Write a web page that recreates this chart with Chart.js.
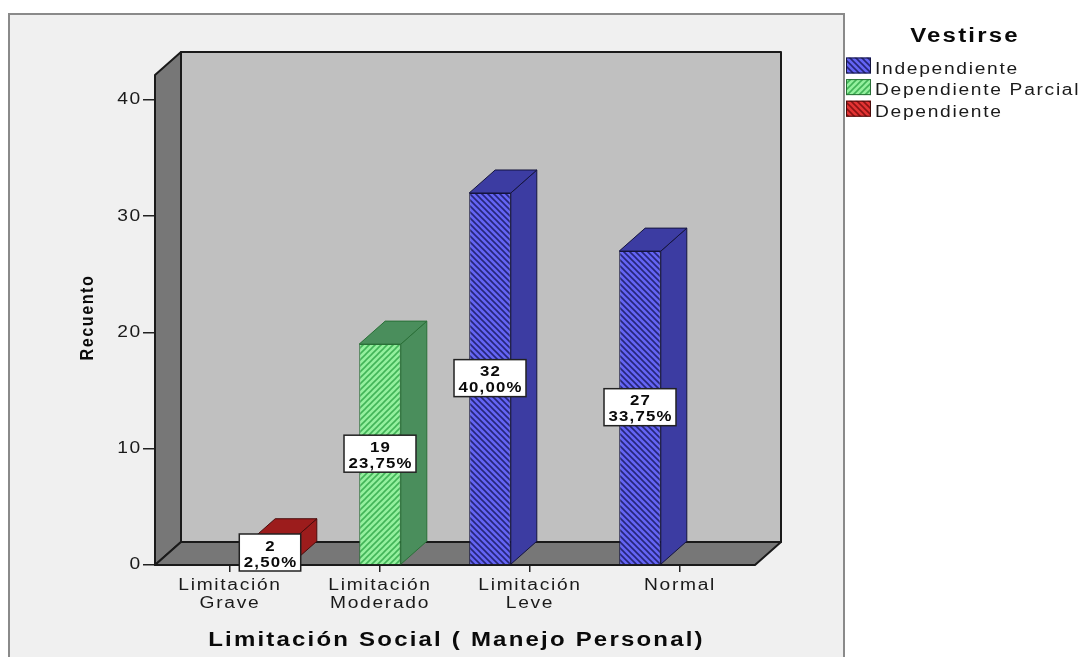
<!DOCTYPE html>
<html lang="es">
<head>
  <meta charset="UTF-8" />
  <title>Vestirse - Limitación Social</title>
  <script src="https://cdn.jsdelivr.net/npm/chart.js"></script>
  <style>
    html, body { margin: 0; padding: 0; background: #fff; }
    canvas { display: block; }
  </style>
</head>
<body>
  <canvas id="chart" width="1084" height="657"></canvas>

  <script>
    // Datos del gráfico
    const categories = [['Limitación', 'Grave'], ['Limitación', 'Moderado'], ['Limitación', 'Leve'], 'Normal'];
    const seriesNames = ['Independiente', 'Dependiente Parcial', 'Dependiente'];
    const independiente = [null, null, 32, 27];
    const dependienteParcial = [null, 19, null, null];
    const dependiente = [2, null, null, null];
    const yTicks = [0, 10, 20, 30, 40];

    const FONT = '"Liberation Sans", Arial, sans-serif';
    const DX = 26, DY = -23;   // profundidad del efecto 3D
    const STRETCH = 1.2;       // texto ensanchado al estilo SPSS
    let stretch = STRETCH;

    // relleno rayado para las caras frontales
    function hatch(base, line, dir) {
      const c = document.createElement('canvas');
      c.width = c.height = 6;
      const g = c.getContext('2d');
      g.fillStyle = base;
      g.fillRect(0, 0, 6, 6);
      g.strokeStyle = line;
      g.lineWidth = 1.6;
      g.beginPath();
      if (dir === '\\') {
        g.moveTo(-1, -1); g.lineTo(7, 7);
        g.moveTo(-1, 5); g.lineTo(1, 7);
        g.moveTo(5, -1); g.lineTo(7, 1);
      } else {
        g.moveTo(-1, 7); g.lineTo(7, -1);
        g.moveTo(-1, 1); g.lineTo(1, -1);
        g.moveTo(5, 7); g.lineTo(7, 5);
      }
      g.stroke();
      return g.createPattern(c, 'repeat');
    }

    const styles = [
      { fill: hatch('#6464f4', '#26267a', '\\'), side: '#3c3ca2', edge: '#14143e' },
      { fill: hatch('#94f09e', '#42b458', '/'),  side: '#4a8e5c', edge: '#2a7038' },
      { fill: hatch('#e43434', '#8c1414', '\\'), side: '#9c1c1c', edge: '#4a0c0c' }
    ];

    // todo el texto del canvas se dibuja ensanchado horizontalmente
    function stretchText(ctx) {
      if (ctx._stretched) return;
      const fill = ctx.fillText;
      ctx.fillText = function (s, x, y) {
        this.save();
        this.translate(x, y);
        this.scale(stretch, 1);
        fill.call(this, s, 0, 0);
        this.restore();
      };
      ctx._stretched = true;
    }

    function txt(ctx, s, x, y, font, ls, align, color, k) {
      ctx.save();
      stretch = k || STRETCH;
      ctx.font = font;
      ctx.letterSpacing = (ls / stretch) + 'px';
      ctx.textAlign = align;
      ctx.textBaseline = 'alphabetic';
      ctx.fillStyle = color || '#111';
      ctx.fillText(s, x, y);
      stretch = STRETCH;
      ctx.restore();
    }

    function poly(ctx, pts, fill, stroke, lw) {
      ctx.beginPath();
      ctx.moveTo(pts[0][0], pts[0][1]);
      for (let i = 1; i < pts.length; i++) ctx.lineTo(pts[i][0], pts[i][1]);
      ctx.closePath();
      ctx.fillStyle = fill;
      ctx.fill();
      ctx.lineWidth = lw;
      ctx.strokeStyle = stroke;
      ctx.lineJoin = 'round';
      ctx.stroke();
    }

    const box3d = {
      id: 'box3d',
      beforeDraw(chart) {
        const ctx = chart.ctx;
        stretchText(ctx);
        // marco del gráfico
        ctx.fillStyle = '#ffffff';
        ctx.fillRect(0, 0, chart.width, chart.height);
        ctx.fillStyle = '#f0f0f0';
        ctx.fillRect(9, 14, 835, chart.height);
        ctx.lineWidth = 2;
        ctx.strokeStyle = '#8a8a8a';
        ctx.beginPath();
        ctx.moveTo(9, chart.height + 2); ctx.lineTo(9, 14); ctx.lineTo(844, 14); ctx.lineTo(844, chart.height + 2);
        ctx.stroke();
        ctx.letterSpacing = (1.7 / STRETCH) + 'px';
      },
      beforeDatasetsDraw(chart) {
        const ctx = chart.ctx;
        const x = chart.scales.x, y = chart.scales.y;
        const L = x.left, R = x.right, T = y.top, B = y.getPixelForValue(0);
        ctx.save();
        // pared de fondo, pared izquierda y suelo
        poly(ctx, [[L + DX, T + DY], [R + DX, T + DY], [R + DX, B + DY], [L + DX, B + DY]], '#c0c0c0', '#1a1a1a', 2);
        poly(ctx, [[L, T], [L + DX, T + DY], [L + DX, B + DY], [L, B]], '#777777', '#1a1a1a', 2);
        poly(ctx, [[L, B], [L + DX, B + DY], [R + DX, B + DY], [R, B]], '#777777', '#1a1a1a', 2);
        // caras laterales y superiores de las barras
        chart.data.datasets.forEach((ds, di) => {
          const st = styles[di];
          chart.getDatasetMeta(di).data.forEach((bar, i) => {
            if (ds.data[i] == null) return;
            const x1 = bar.x - bar.width / 2, x2 = bar.x + bar.width / 2;
            const t = bar.y, b = bar.base;
            poly(ctx, [[x2, t], [x2 + DX, t + DY], [x2 + DX, b + DY], [x2, b]], st.side, st.edge, 1);
            poly(ctx, [[x1, t], [x1 + DX, t + DY], [x2 + DX, t + DY], [x2, t]], st.side, st.edge, 1);
          });
        });
        ctx.restore();
      },
      afterDatasetsDraw(chart) {
        const ctx = chart.ctx;
        const total = chart.data.datasets.reduce((s, ds) => s + ds.data.reduce((a, v) => a + (v || 0), 0), 0);
        const font = 'bold 14px ' + FONT, ls = 1.2;
        chart.data.datasets.forEach((ds, di) => {
          chart.getDatasetMeta(di).data.forEach((bar, i) => {
            const v = ds.data[i];
            if (v == null) return;
            const lines = [String(v), (v / total * 100).toFixed(2).replace('.', ',') + '%'];
            ctx.save();
            ctx.font = font;
            ctx.letterSpacing = (ls / STRETCH) + 'px';
            const w = Math.max(...lines.map(s => ctx.measureText(s).width)) * STRETCH - ls + 9;
            const cx = bar.x, cy = (bar.y + bar.base) / 2;
            ctx.fillStyle = '#ffffff';
            ctx.fillRect(cx - w / 2, cy - 19, w, 37);
            ctx.lineWidth = 1.5;
            ctx.strokeStyle = '#222';
            ctx.strokeRect(cx - w / 2, cy - 19, w, 37);
            ctx.restore();
            txt(ctx, lines[0], cx + ls / 2, cy - 2.2, font, ls, 'center', '#0a0a0a');
            txt(ctx, lines[1], cx + ls / 2, cy + 13.6, font, ls, 'center', '#0a0a0a');
          });
        });
      },
      afterDraw(chart) {
        const ctx = chart.ctx;
        // títulos de los ejes
        txt(ctx, 'Limitación Social ( Manejo Personal)', 456.5, 645.5, 'bold 20px ' + FONT, 2.2, 'center', '#0a0a0a');
        ctx.save();
        ctx.translate(93, 318);
        ctx.rotate(-Math.PI / 2);
        txt(ctx, 'Recuento', 0.5, 0, 'bold 18px ' + FONT, 1.5, 'center', '#0a0a0a', 0.9);
        ctx.restore();
        // leyenda
        txt(ctx, 'Vestirse', 965, 41.7, 'bold 20px ' + FONT, 2.2, 'center', '#0a0a0a');
        seriesNames.forEach((name, i) => {
          const base = 73.5 + i * 21.6;
          ctx.save();
          ctx.fillStyle = styles[i].fill;
          ctx.fillRect(846, base - 16, 25, 16);
          ctx.lineWidth = 1;
          ctx.strokeStyle = styles[i].edge;
          ctx.strokeRect(846.5, base - 15.5, 24, 15);
          ctx.restore();
          txt(ctx, name, 875, base, '16px ' + FONT, 1.7, 'left', '#1a1a1a');
        });
      }
    };

    const ctx = document.getElementById('chart').getContext('2d');
    new Chart(ctx, {
      type: 'bar',
      data: {
        labels: categories,
        datasets: [
          { label: seriesNames[0], data: independiente },
          { label: seriesNames[1], data: dependienteParcial },
          { label: seriesNames[2], data: dependiente }
        ].map((d, i) => Object.assign(d, {
          backgroundColor: styles[i].fill,
          borderColor: styles[i].edge,
          borderWidth: 1,
          categoryPercentage: 0.8,
          barPercentage: 1.04
        }))
      },
      options: {
        responsive: false,
        animation: false,
        devicePixelRatio: 1,
        layout: { padding: { left: 0, right: 329, top: 75, bottom: 0 } },
        plugins: { legend: { display: false }, tooltip: { enabled: false } },
        scales: {
          x: {
            offset: true,
            afterFit: s => { s.height = 92; },
            grid: { offset: false, drawOnChartArea: false, tickLength: 7, color: '#222', lineWidth: 1.5 },
            border: { display: false },
            ticks: {
              font: { family: FONT, size: 16, lineHeight: 1.15 },
              color: '#1a1a1a', padding: 4, maxRotation: 0, autoSkip: false
            }
          },
          y: {
            min: 0,
            max: 42.15,
            afterFit: s => { s.width = 155; },
            afterBuildTicks: s => { s.ticks = yTicks.map(v => ({ value: v })); },
            grid: { drawOnChartArea: false, tickLength: 12, color: '#222', lineWidth: 1.5 },
            border: { display: false },
            ticks: { font: { family: FONT, size: 16 }, color: '#1a1a1a', padding: 1 }
          }
        }
      },
      plugins: [box3d]
    });
  </script>
</body>
</html>
